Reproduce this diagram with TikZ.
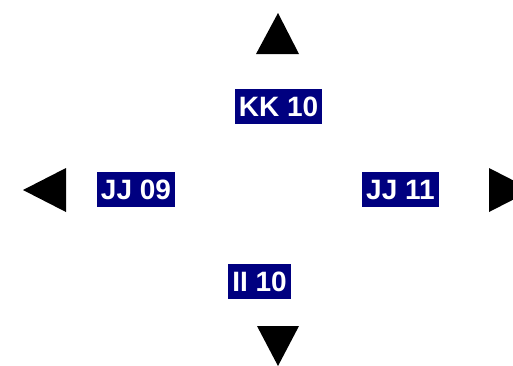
\documentclass[tikz,border=0pt]{standalone}
\usepackage{fontspec}
\setmainfont{Liberation Sans}
\usepackage{xcolor}
\definecolor{navyfill}{RGB}{0,0,128}
\usetikzlibrary{calc}

\begin{document}
\begin{tikzpicture}[x=1pt,y=-1pt,
  tag/.style={fill=navyfill,text=white,font=\bfseries\fontsize{28}{28}\selectfont,
    inner xsep=4pt,inner ysep=0pt,text height=20pt,text depth=0pt,minimum height=35pt}]
\useasboundingbox (0,0) rectangle (513,365);
\node[tag] (kk10) at (278.5,106) {KK 10};
\node[tag] (jj09) at (136,189.5) {JJ 09};
\node[tag] (jj11) at (400.5,189.5) {JJ 11};
\node[tag] (ii10) at (259.5,281) {II 10};
\fill (278,13) -- (299,54) -- (256,54) -- cycle;
\fill (23,190) -- (66,168) -- (66,212) -- cycle;
\fill (489,168) -- (532,190) -- (489,212) -- cycle;
\fill (257,326) -- (299,326) -- (278,366) -- cycle;
\end{tikzpicture}
\end{document}
